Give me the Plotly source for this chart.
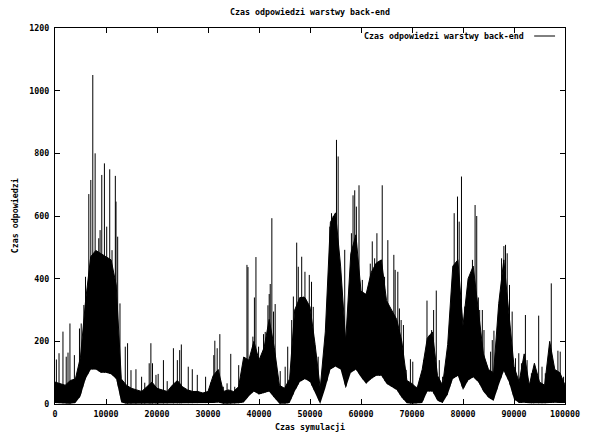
import plotly.graph_objects as go

# Simulation time grid (every 1000 units) for the dense response band
sim_time = list(range(0, 100001, 1000))

# Upper edge of the dense black band of responses
band_resp = [70, 65, 60, 75, 80, 150, 330, 470, 490, 480,
             470, 460, 380, 80, 60, 50, 45, 40, 55, 70,
             50, 45, 40, 60, 75, 55, 45, 40, 40, 35,
             40, 90, 110, 40, 45, 40, 55, 150, 140, 200,
             140, 180, 270, 180, 60, 50, 80, 300, 340, 340,
             310, 190, 50, 230, 580, 610, 440, 200, 480, 540,
             360, 350, 420, 450, 460, 330, 300, 270, 200, 75,
             65, 50, 110, 210, 230, 90, 60, 190, 440, 460,
             250, 400, 440, 300, 160, 110, 100, 320, 460, 290,
             120, 70, 160, 60, 130, 70, 60, 200, 110, 100,
             60]

# Lower edge of the band (lowest response times)
floor_resp = [3, 2, 2, 1, 3, 25, 80, 110, 110, 100,
              100, 95, 80, 5, 1, 1, 1, 1, 2, 2,
              1, 1, 1, 2, 3, 2, 1, 1, 1, 1,
              1, 3, 5, 1, 1, 1, 2, 5, 25, 40,
              30, 35, 40, 20, 1, 1, 3, 40, 70, 80,
              70, 35, 0, 50, 110, 120, 110, 50, 100, 110,
              85, 65, 80, 90, 90, 65, 55, 45, 20, 2,
              1, 1, 3, 40, 40, 10, 3, 30, 80, 90,
              45, 75, 85, 70, 40, 20, 10, 60, 105, 70,
              15, 3, 4, 2, 3, 2, 2, 4, 4, 3,
              3]

# Individual response-time spikes
spike_time = [270, 790, 1560, 2200, 2550, 2930, 3800, 4800, 5140, 5660,
              5980, 6630, 7020, 7410, 7870, 8580, 8840, 9170, 9690, 10140,
              10730, 11180, 11830, 11960, 12290, 12740, 13780, 14230, 14900, 15870,
              16980, 17600, 18470, 18800, 19120, 19800, 20230, 21260, 22000, 23220,
              23990, 24450, 24770, 26130, 26920, 27900, 29530, 30500, 31140, 31340,
              31800, 32320, 33000, 33740, 34460, 35240, 36020, 36540, 37640, 37840,
              38800, 39100, 39400, 39920, 40440, 40890, 41220, 41750, 42000, 42200,
              42520, 42850, 43170, 44160, 45130, 45630, 46410, 46740, 47390, 47700,
              48370, 48700, 49150, 49010, 49860, 50300, 50640, 51600, 53430, 53890,
              54220, 54540, 55190, 55520, 56810, 57140, 58120, 58440, 58770, 59090,
              59610, 60260, 61040, 61820, 62210, 62670, 63120, 63640, 64160, 64620,
              65260, 65720, 65920, 66440, 66700, 67220, 67540, 67870, 68320, 68850,
              69690, 70150, 70800, 71570, 72290, 72940, 73390, 73850, 74240, 74760,
              75350, 76000, 76970, 77490, 77820, 78270, 78720, 78920, 79250, 79700,
              80350, 80870, 81390, 81850, 82370, 82690, 83010, 83270, 83790, 84115,
              84765, 85415, 85740, 86065, 86715, 87560, 88015, 88340, 88665, 89120,
              89640, 90290, 90940, 91460, 92240, 92565, 93410, 93865, 94840, 95490,
              96140, 97310, 97765, 98610, 99065, 99720]
spike_resp = [142, 162, 231, 151, 164, 257, 156, 241, 257, 316,
              406, 670, 715, 1050, 800, 529, 555, 731, 768, 566,
              749, 491, 728, 646, 534, 321, 183, 194, 108, 111,
              87, 68, 130, 194, 130, 93, 96, 140, 73, 178,
              140, 172, 190, 119, 111, 93, 87, 68, 156, 202,
              178, 223, 55, 66, 160, 55, 124, 80, 444, 437,
              215, 340, 469, 183, 143, 223, 230, 315, 351, 383,
              593, 295, 319, 105, 119, 183, 268, 343, 515, 438,
              470, 343, 279, 422, 412, 390, 310, 151, 215, 566,
              609, 600, 843, 790, 492, 215, 545, 666, 682, 630,
              698, 396, 310, 448, 519, 465, 545, 448, 698, 406,
              523, 247, 284, 476, 428, 422, 305, 268, 252, 109,
              143, 135, 55, 82, 140, 330, 220, 236, 300, 362,
              140, 87, 140, 252, 353, 609, 438, 662, 582, 726,
              311, 320, 369, 460, 635, 600, 340, 300, 300, 236,
              119, 167, 204, 234, 87, 465, 504, 508, 481, 380,
              295, 146, 162, 130, 284, 140, 98, 82, 282, 119,
              98, 385, 119, 170, 167, 87]

x_ticks = list(range(0, 100001, 10000))
y_ticks = list(range(0, 1201, 200))

FONT = "DejaVu Sans Mono"
series_name = "Czas odpowiedzi warstwy back-end"

# Spikes as vertical strokes from zero up to their value
sx, sy = [], []
for t, v in zip(spike_time, spike_resp):
    sx += [t, t, None]
    sy += [0, v, None]

fig = go.Figure()
fig.add_trace(go.Scatter(x=sx, y=sy, mode="lines",
                         line=dict(color="black", width=1),
                         showlegend=False, hoverinfo="skip"))
# White gap below the band, then the black band on top of it
fig.add_trace(go.Scatter(x=sim_time, y=floor_resp, mode="lines",
                         line=dict(color="white", width=0),
                         fill="tozeroy", fillcolor="white",
                         showlegend=False, hoverinfo="skip"))
fig.add_trace(go.Scatter(x=sim_time, y=band_resp, mode="lines",
                         line=dict(color="black", width=1),
                         fill="tonexty", fillcolor="black",
                         name=series_name, showlegend=False))

axis_common = dict(showgrid=False, zeroline=False, showline=True,
                   linecolor="black", linewidth=1, mirror="ticks",
                   ticks="inside", ticklen=5, tickcolor="black",
                   tickfont=dict(family=FONT, size=8.3, color="black", weight="bold"))

fig.update_layout(
    width=592, height=434,
    margin=dict(l=55, r=24, t=28, b=30),
    paper_bgcolor="white", plot_bgcolor="white",
    font=dict(family=FONT, size=8.3, color="black", weight="bold"),
    title=dict(text="Czas odpowiedzi warstwy back-end", x=0.5, xref="paper",
               y=1 - 12 / 434, yanchor="middle", yref="container",
               font=dict(family=FONT, size=8.3, color="black", weight="bold")),
    xaxis=dict(range=[0, 100000], tickvals=x_ticks,
               ticktext=[str(v) for v in x_ticks], ticklabelstandoff=2,
               **axis_common),
    yaxis=dict(range=[0, 1200], tickvals=y_ticks,
               ticktext=[str(v) for v in y_ticks], ticklabelstandoff=3,
               **axis_common),
    showlegend=False,
)

# Axis titles
fig.add_annotation(text="Czas symulacji", xref="paper", yref="paper",
                   x=0.5, y=-23 / 376, xanchor="center", yanchor="middle",
                   showarrow=False)
fig.add_annotation(text="Czas odpowiedzi", xref="paper", yref="paper",
                   x=-40 / 513, y=0.5, textangle=-90, xanchor="center",
                   yanchor="middle", showarrow=False)

# Key in the upper right: label followed by a line sample
key_y = (404 - 36) / 376
fig.add_annotation(text=series_name, xref="paper", yref="paper",
                   x=(529 - 55) / 513, y=key_y, xanchor="right",
                   yanchor="middle", showarrow=False)
fig.add_shape(type="line", xref="paper", yref="paper",
              x0=(537 - 55) / 513, x1=(558 - 55) / 513, y0=key_y, y1=key_y,
              line=dict(color="black", width=1))

fig.write_html("out.html")
